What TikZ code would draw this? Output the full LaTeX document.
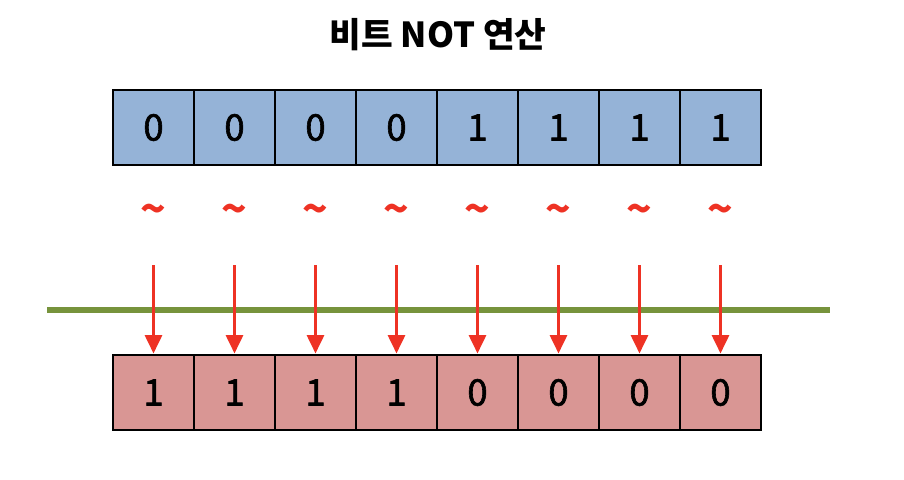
\documentclass[tikz,border=0pt]{standalone}
\usepackage{fontspec}
\setmainfont{Noto Sans CJK KR}
\newfontfamily\bitfont{Noto Sans CJK KR}[FakeBold=1.6]
\usetikzlibrary{arrows.meta}
\definecolor{bitblue}{RGB}{149,179,215}
\definecolor{bitpink}{RGB}{217,150,148}
\definecolor{linegreen}{RGB}{119,147,60}
\definecolor{notred}{RGB}{238,50,36}
\tikzset{
  bitcell/.style={draw=black, line width=2.1pt, minimum width=2.025cm,
    minimum height=1.875cm, inner sep=0pt, font=\fontsize{26}{30}\bitfont},
  notarrow/.style={draw=notred, line width=2.1pt,
    -{Triangle[width=12pt,length=13pt]}}
}
\begin{document}
\begin{tikzpicture}[x=0.025cm, y=-0.025cm]
    \useasboundingbox (0,0) rectangle (904,480);
    \node[font=\fontsize{24.5}{28}\selectfont\bfseries] (title) at (438,35) {비트 NOT 연산};
    % the two rows of bits
    \foreach \b [count=\i] in {0,0,0,0,1,1,1,1}
      \node[bitcell, fill=bitblue] (t\i) at (72.5+81*\i,127.5) {\b};
    \foreach \b [count=\i] in {1,1,1,1,0,0,0,0}
      \node[bitcell, fill=bitpink] (b\i) at (72.5+81*\i,392.5) {\b};
    \draw[linegreen, line width=3.6pt] (47,310) -- (830,310);
    \foreach \i in {1,...,8} {
      \node[text=notred, font=\fontsize{30}{34}\selectfont\bfseries] (n\i) at (72.5+81*\i,214) {\textasciitilde};
      \coordinate (s\i) at (72.5+81*\i,265);
      \draw[notarrow] (s\i) -- (b\i.north);
    }
 \end{tikzpicture}
\end{document}
